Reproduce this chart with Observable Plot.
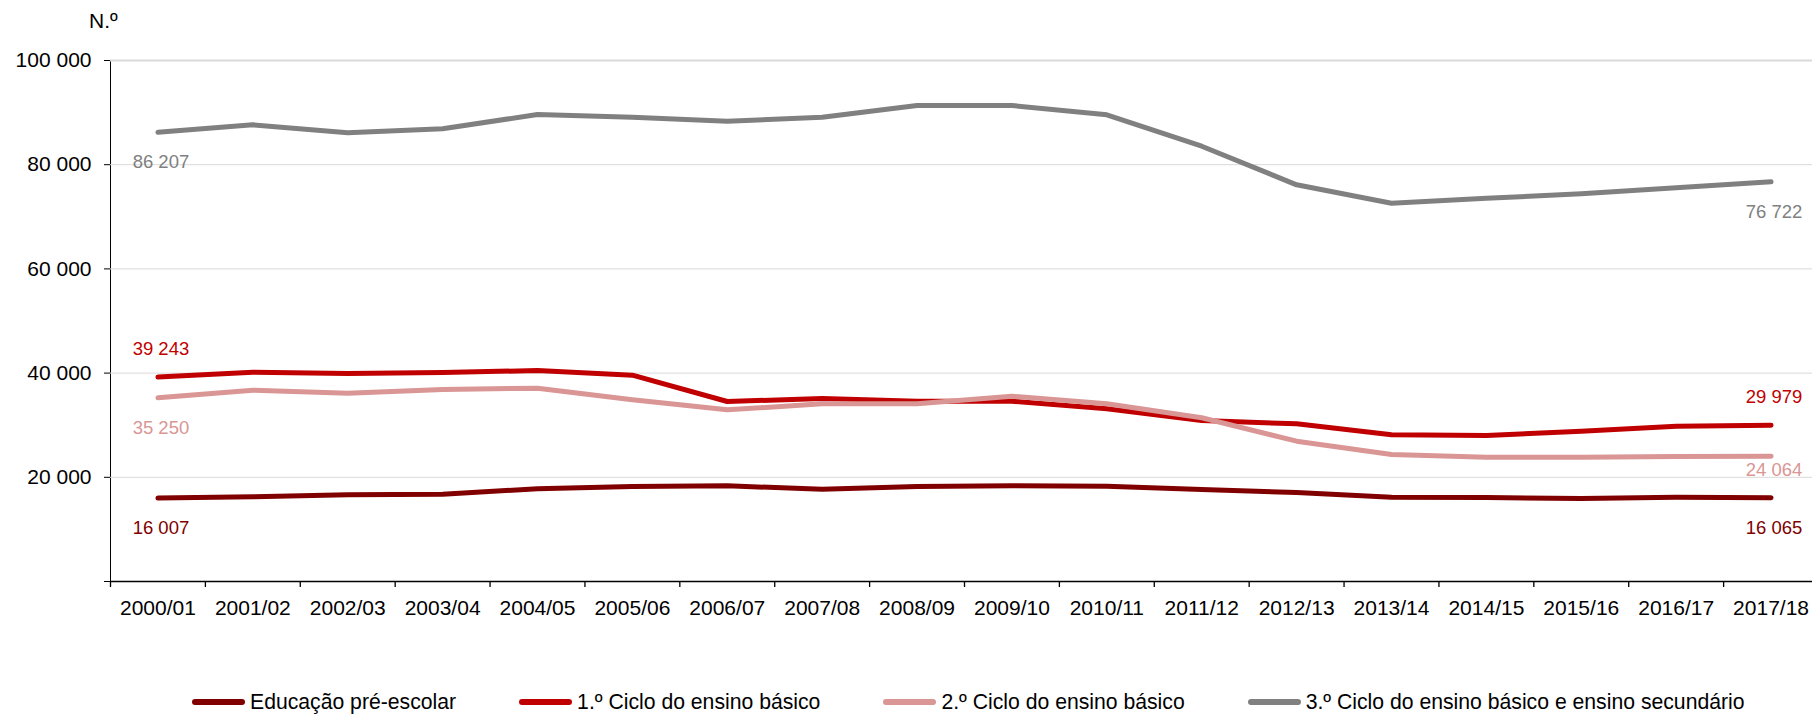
<!DOCTYPE html>
<html>
<head>
<meta charset="utf-8">
<script src="https://cdn.jsdelivr.net/npm/d3@7"></script>
<script src="https://cdn.jsdelivr.net/npm/@observablehq/plot@0.6"></script>
<style>
  html, body { margin: 0; padding: 0; background: #fff; overflow: hidden; }
  body { width: 1812px; height: 715px; position: relative; font-family: "Liberation Sans", Arial, sans-serif; }
  #unit { position: absolute; left: 89px; top: 10px; font-size: 21px; line-height: 21px; color: #000; }
  #legend { position: absolute; left: 192px; top: 690px; display: flex; gap: 63px; font-size: 21.2px; line-height: 24px; color: #000; white-space: nowrap; }
  .item { display: flex; align-items: center; gap: 5px; }
  .sw { width: 53px; height: 6px; border-radius: 3px; }
  g[aria-label^="x-axis"] text, g[aria-label^="y-axis"] text { font-size: 21px; }
</style>
</head>
<body>
<div id="chart"></div>
<div id="unit">N.º</div>
<div id="legend"></div>
<script>
const years = ["2000/01","2001/02","2002/03","2003/04","2004/05","2005/06","2006/07","2007/08","2008/09","2009/10","2010/11","2011/12","2012/13","2013/14","2014/15","2015/16","2016/17","2017/18"];
const seriesNames = ["Educação pré-escolar","1.º Ciclo do ensino básico","2.º Ciclo do ensino básico","3.º Ciclo do ensino básico e ensino secundário"];
const seriesColors = ["#800000","#C00000","#D99694","#808080"];
const preEscolar = [16007,16250,16640,16760,17790,18230,18360,17720,18230,18360,18300,17660,17080,16180,16120,15930,16180,16065];
const ciclo1 = [39243,40180,39920,40110,40500,39600,34550,35120,34610,34610,33140,30900,30260,28160,28020,28850,29810,29979];
const ciclo2 = [35250,36720,36150,36850,37100,34870,32950,34100,34100,35570,34100,31420,26930,24380,23860,23860,23990,24064];
const ciclo3 = [86207,87658,86120,86890,89635,89120,88350,89120,91363,91363,89575,83550,76140,72610,73540,74410,75560,76722];
const yTicks = [0,20000,40000,60000,80000,100000];

const values = [preEscolar, ciclo1, ciclo2, ciclo3];
const data = seriesNames.flatMap((s, i) => years.map((yr, j) => ({series: s, year: yr, value: values[i][j]})));
const fmt = v => v === 0 ? "" : d3.format(",")(v).replace(/,/g, " ");
const ends = data.filter(d => d.year === years[0] || d.year === years[years.length - 1]);
const above = ends.filter(d => d.series === seriesNames[1]);
const belowNear = ends.filter(d => d.series === seriesNames[2] && d.year === years[years.length - 1]);
const below = ends.filter(d => !above.includes(d) && !belowNear.includes(d));

const W = 1812, ML = 110, MR = -6;
const bw = (W - ML - MR) / years.length;

const chart = Plot.plot({
  width: W,
  height: 650,
  marginLeft: ML,
  marginRight: MR,
  marginTop: 60,
  marginBottom: 69,
  style: {fontFamily: "'Liberation Sans', Arial, sans-serif", fontSize: "21px", color: "#000", background: "white", overflow: "visible"},
  x: {type: "band", domain: years, padding: 0, round: false, tickSize: 0, tickPadding: 19, label: null},
  y: {domain: [0, 100000], ticks: yTicks, tickFormat: fmt, tickSize: 6, tickPadding: 13, line: true, label: null},
  color: {domain: seriesNames, range: seriesColors},
  marks: [
    Plot.ruleY(yTicks.filter(t => t > 0 && t < 100000), {stroke: "#d9d9d9", strokeWidth: 1}),
    Plot.ruleY([100000], {stroke: "#d9d9d9", strokeWidth: 2}),
    Plot.ruleY([0], {stroke: "#000", strokeWidth: 1.3}),
    Plot.ruleX(years, {x: d => d, y1: 0, y2: 0, insetBottom: -6, dx: -bw / 2, stroke: "#000", strokeWidth: 1.3}),
    Plot.line(data, {x: "year", y: "value", z: "series", stroke: "series", strokeWidth: 5, strokeLinecap: "round", strokeLinejoin: "round"}),
    Plot.text(above, {x: "year", y: "value", text: d => fmt(d.value), fill: "series", dy: -28, dx: 3, fontSize: 18.5}),
    Plot.text(below, {x: "year", y: "value", text: d => fmt(d.value), fill: "series", dy: 30, dx: 3, fontSize: 18.5}),
    Plot.text(belowNear, {x: "year", y: "value", text: d => fmt(d.value), fill: "series", dy: 14, dx: 3, fontSize: 18.5})
  ]
});
document.getElementById("chart").appendChild(chart);

const legend = document.getElementById("legend");
seriesNames.forEach((s, i) => {
  const item = document.createElement("div");
  item.className = "item";
  const sw = document.createElement("span");
  sw.className = "sw";
  sw.style.background = seriesColors[i];
  const lab = document.createElement("span");
  lab.textContent = s;
  item.appendChild(sw);
  item.appendChild(lab);
  legend.appendChild(item);
});
</script>
</body>
</html>
